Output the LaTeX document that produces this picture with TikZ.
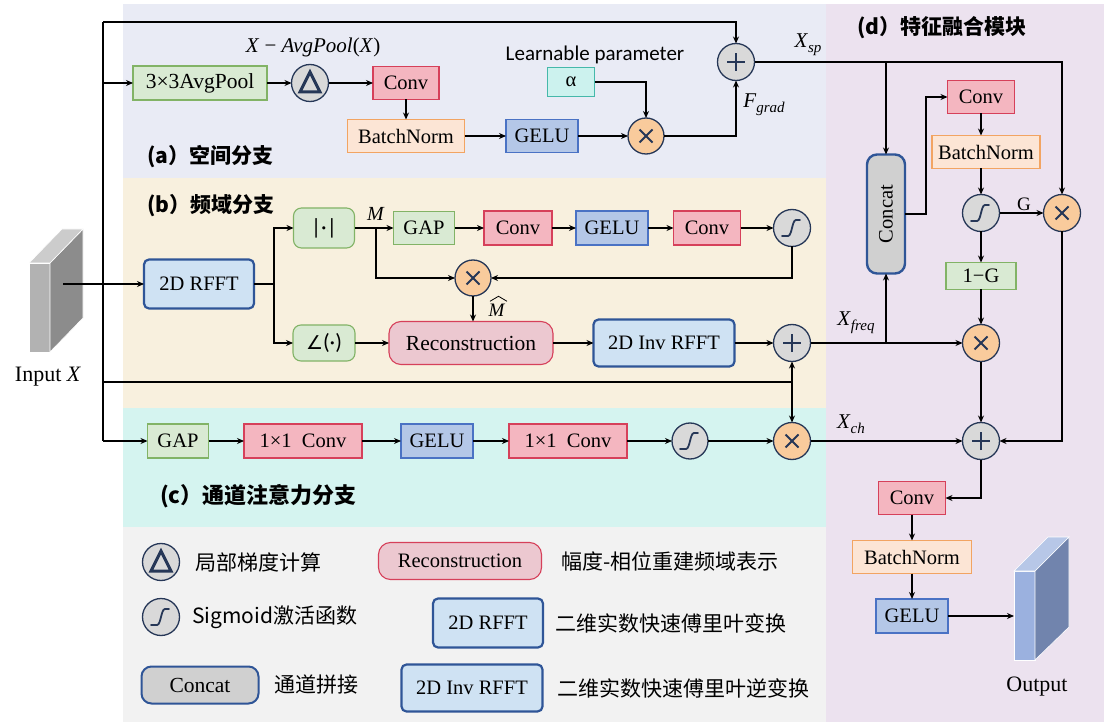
\RequirePackage{fix-cm}
\documentclass[tikz,border=0pt]{standalone}
\usepackage{graphicx}
\usepackage{fontspec}
\setmainfont{Liberation Serif}
\newfontfamily\cjk{Noto Sans CJK SC}
\newfontfamily\carl{Carlito}
\newfontfamily\dejavu{DejaVu Sans}
\usetikzlibrary{arrows.meta,calc}
\newcommand\fsz[1]{\fontsize{#1}{#1}\selectfont}
% italic variable with a lowered italic index
\newcommand\vsub[2]{\textit{#1}\raisebox{-5pt}{\fsz{15}\textit{#2}}}

% panel colours
\definecolor{panelA}{HTML}{E9EBF5}
\definecolor{panelB}{HTML}{F8F0DE}
\definecolor{panelC}{HTML}{D5F4F0}
\definecolor{panelL}{HTML}{F2F2F2}
\definecolor{panelD}{HTML}{ECE2EF}
% box colours
\definecolor{gfill}{HTML}{D9EAD3}\definecolor{gline}{HTML}{82B366}
\definecolor{pfill}{HTML}{F4B6C0}\definecolor{pline}{HTML}{D6405A}
\definecolor{ofill}{HTML}{FCE5D5}\definecolor{oline}{HTML}{F2A462}
\definecolor{bfill}{HTML}{B4C7E7}\definecolor{bline}{HTML}{4A72C4}
\definecolor{tfill}{HTML}{CCF2EE}\definecolor{tline}{HTML}{45B8AA}
\definecolor{ffill}{HTML}{CFE2F3}\definecolor{fline}{HTML}{2F5597}
\definecolor{rfill}{HTML}{ECC8D0}\definecolor{rline}{HTML}{D6405A}
\definecolor{cgray}{HTML}{D9D9D9}\definecolor{cline}{HTML}{263757}
\definecolor{corange}{HTML}{F9CB9C}
\definecolor{kfill}{HTML}{D0D0D0}

\begin{document}
\begin{tikzpicture}[x=1pt,y=-1pt,
  every node/.style={inner sep=0pt,outer sep=0pt},
  sz/.style 2 args={minimum width=#1pt,minimum height=#2pt},
  gbox/.style={draw=gline,fill=gfill,line width=1.1pt,font=\fsz{20.5}},
  grbox/.style={gbox,rounded corners=8pt},
  pbox/.style={draw=pline,fill=pfill,line width=1.1pt,font=\fsz{20.5}},
  obox/.style={draw=oline,fill=ofill,line width=1.1pt,font=\fsz{20.5}},
  bbox/.style={draw=bline,fill=bfill,line width=1.1pt,font=\fsz{20.5}},
  tbox/.style={draw=tline,fill=tfill,line width=1.1pt,font=\fsz{20.5}},
  fbox/.style={draw=fline,fill=ffill,line width=2.2pt,rounded corners=5pt,font=\fsz{20.5}},
  rbox/.style={draw=rline,fill=rfill,line width=1.1pt,rounded corners=12pt,font=\fsz{21.5}},
  kbox/.style={draw=fline,fill=kfill,line width=2.4pt,rounded corners=10pt,font=\fsz{20.5}},
  circ/.style={circle,draw=cline,fill=cgray,line width=1.3pt,minimum size=37pt},
  plusc/.style={circ,path picture={
    \draw[line width=2pt] ([xshift=-9pt]path picture bounding box.center) -- ([xshift=9pt]path picture bounding box.center);
    \draw[line width=2pt] ([yshift=-9pt]path picture bounding box.center) -- ([yshift=9pt]path picture bounding box.center);}},
  timesc/.style={circ,fill=corange,path picture={
    \draw[line width=2pt] ([shift={(-6.5pt,-6.5pt)}]path picture bounding box.center) -- ([shift={(6.5pt,6.5pt)}]path picture bounding box.center);
    \draw[line width=2pt] ([shift={(-6.5pt,6.5pt)}]path picture bounding box.center) -- ([shift={(6.5pt,-6.5pt)}]path picture bounding box.center);}},
  sigc/.style={circ,path picture={
    \draw[line width=1.8pt,line cap=round]
      ([shift={(-10pt,-8pt)}]path picture bounding box.center) -- ([shift={(-4pt,-8pt)}]path picture bounding box.center)
      .. controls ([shift={(0pt,-8pt)}]path picture bounding box.center) and ([shift={(0pt,8pt)}]path picture bounding box.center)
      .. ([shift={(4pt,8pt)}]path picture bounding box.center) -- ([shift={(8pt,8pt)}]path picture bounding box.center);}},
  deltac/.style={circ,path picture={
    \draw[line width=3pt,line join=miter]
      ([shift={(0pt,11pt)}]path picture bounding box.center) -- ([shift={(-10pt,-9pt)}]path picture bounding box.center)
      -- ([shift={(10pt,-9pt)}]path picture bounding box.center) -- cycle;}},
  arr/.style={-{Stealth[length=7pt,width=6pt]},line width=1.3pt},
  ln/.style={line width=1.3pt},
  sect/.style={anchor=west,font={\cjk\bfseries\fsz{21}}},
  legt/.style={anchor=west,font={\cjk\fsz{21}}},
  lbl/.style={font=\fsz{21}},
]
\useasboundingbox (0,0) rectangle (1104,722);

% ---------- background panels ----------
\fill[panelA] (123,4) rectangle (826,178);
\fill[panelB] (123,178) rectangle (826,408);
\fill[panelC] (123,408) rectangle (826,527);
\fill[panelL] (123,527) rectangle (826,722);
\fill[panelD] (826,4) rectangle (1104,722);

% ---------- input feature block ----------
\filldraw[fill=black!30,draw=white,line width=0.6pt] (29,263) -- (50,263) -- (50,352) -- (29,352) -- cycle;
\filldraw[fill=black!45,draw=white,line width=0.6pt] (50,263) -- (83,229) -- (83,318) -- (50,352) -- cycle;
\filldraw[fill=black!20,draw=white,line width=0.6pt] (29,263) -- (62,229) -- (83,229) -- (50,263) -- cycle;
\coordinate (inx) at (63,284);
\node[lbl,font=\fsz{22}] (inlbl) at (48,377) {Input \textit{X}};

% ---------- output feature block ----------
\filldraw[fill=bline!55,draw=white,line width=0.6pt] (1014,571) -- (1035,571) -- (1035,660) -- (1014,660) -- cycle;
\filldraw[fill=bline!70!black!70,draw=white,line width=0.6pt] (1035,571) -- (1069,537) -- (1069,627) -- (1035,660) -- cycle;
\filldraw[fill=bline!40,draw=white,line width=0.6pt] (1014,571) -- (1048,537) -- (1069,537) -- (1035,571) -- cycle;
\coordinate (outin) at (1014,616);
\node[lbl,font=\fsz{22}] (outlbl) at (1037,687) {Output};

% ---------- section titles ----------
\node[sect] (ta) at (147,157) {(a）空间分支};
\node[sect] (tb) at (147,206) {(b）频域分支};
\node[sect,font={\cjk\bfseries\fsz{22}}] (tc) at (160,496) {(c）通道注意力分支};
\node[sect] (td) at (857,28) {(d）特征融合模块};

% ---------- (a) spatial branch ----------
\node[gbox,sz={134}{34},font=\fsz{21.5}] (avg) at (200,83) {3×3AvgPool};
\node[deltac] (delta) at (310,83) {};
\node[pbox,sz={66}{33}] (conva) at (406,83) {Conv};
\node[obox,sz={117}{33}] (bna) at (406,136) {BatchNorm};
\node[bbox,sz={72}{33}] (gelua) at (542,136) {GELU};
\node[timesc,minimum size=36pt] (mula) at (646,136) {};
\node[tbox,sz={47}{29}] (alpha) at (571,82) {α};
\node[plusc] (plusa) at (736,62) {};
\node[lbl,font=\fsz{21}] (lxa) at (313,47) {\textit{X} − \textit{AvgPool}(\textit{X})};
\node[font={\carl\fsz{21}}] (llp) at (595,55) {Learnable parameter};
\node[lbl] (lfg) at (764,105) {\vsub{F}{grad}};
\node[lbl] (lxsp) at (808,45) {\vsub{X}{sp}};

% ---------- (b) frequency branch ----------
\node[fbox,sz={110}{49}] (rfft) at (199,284) {2D RFFT};
\node[grbox,sz={61}{40},font={\carl\fsz{22}}] (absn) at (324,228) {|·|};
\node[grbox,sz={62}{36},font={\carl\fsz{22}}] (angn) at (324,343) {{\dejavu\fsz{19}∠}(·)};
\node[gbox,sz={61}{33}] (gapb) at (424,228) {GAP};
\node[pbox,sz={68}{34}] (convb1) at (518,228) {Conv};
\node[bbox,sz={72}{34}] (gelub) at (612,228) {GELU};
\node[pbox,sz={67}{34}] (convb2) at (707,228) {Conv};
\node[sigc] (sigb) at (792,228) {};
\node[timesc,minimum size=36pt] (mulb) at (473,278) {};
\node[rbox,sz={164}{43}] (recon) at (471,343) {Reconstruction};
\node[fbox,sz={141}{47}] (irfft) at (664,343) {2D Inv RFFT};
\node[plusc] (plusb) at (792,343) {};
\node[lbl,font=\fsz{20}] (lm) at (376,214) {\textit{M}};
% estimated magnitude: italic M with a wide hat drawn above it
\node[lbl,font=\fsz{19}] (lmh) at (497,310) {\textit{M}};
\draw[line width=0.8pt,line join=miter] ($(lmh.north)+(-7,-2.5)$) -- ($(lmh.north)+(1.5,-7.5)$) -- ($(lmh.north)+(10,-2.5)$);
\node[lbl] (lxf) at (856,323) {\vsub{X}{freq}};

% ---------- (c) channel attention branch ----------
\node[gbox,sz={61}{34}] (gapc) at (178,441) {GAP};
\node[pbox,sz={118}{34}] (c1) at (303,441) {1×1\enspace Conv};
\node[bbox,sz={72}{34}] (gelc) at (437,441) {GELU};
\node[pbox,sz={118}{34}] (c2) at (568,441) {1×1\enspace Conv};
\node[sigc,minimum size=36pt] (sigcn) at (690,441) {};
\node[timesc] (mulc) at (792,441) {};
\node[lbl] (lxc) at (851,424) {\vsub{X}{ch}};

% ---------- (d) fusion module ----------
\node[kbox,sz={38}{119}] (concat) at (886,214) {\rotatebox{90}{Concat}};
\node[pbox,sz={67}{33}] (convd) at (981,97) {Conv};
\node[obox,sz={108}{33}] (bnd) at (986,152) {BatchNorm};
\node[sigc] (sigd) at (981,213) {};
\node[timesc] (muld) at (1062,213) {};
\node[gbox,sz={70}{27}] (oneg) at (981,276) {1−G};
\node[timesc] (mulfd) at (981,343) {};
\node[plusc] (plusd) at (981,441) {};
\node[pbox,sz={67}{33}] (convo) at (912,498) {Conv};
\node[obox,sz={119}{33}] (bno) at (912,557) {BatchNorm};
\node[bbox,sz={72}{34}] (geluo) at (912,616) {GELU};
\node[lbl,font=\fsz{19}] (lg) at (1024,204) {G};

% ---------- legend ----------
\node[deltac] (ldelta) at (161,562) {};
\node[legt] (ldeltat) at (195,562) {局部梯度计算};
\node[sigc] (lsig) at (161,617) {};
\node[legt] (lsigt) at (192,617) {Sigmoid激活函数};
\node[kbox,sz={117}{37},line width=2pt,font=\fsz{21.5}] (lconcat) at (200,685) {Concat};
\node[legt] (lconcatt) at (274,685) {通道拼接};
\node[rbox,sz={163}{37},font=\fsz{20.5}] (lrecon) at (460,561) {Reconstruction};
\node[legt] (lrecont) at (561,561) {幅度-相位重建频域表示};
\node[fbox,sz={110}{49}] (lrfft) at (488,623) {2D RFFT};
\node[legt] (lrfftt) at (555,623) {二维实数快速傅里叶变换};
\node[fbox,sz={141}{47}] (lirfft) at (472,688) {2D Inv RFFT};
\node[legt] (lirfftt) at (557,688) {二维实数快速傅里叶逆变换};

% ---------- connectors: input trunk ----------
\coordinate (tl) at (103,22);
\coordinate (tbot) at (103,441);
\coordinate (tx) at (103,382);
\draw[ln] (tl) -- (tbot);
\draw[arr] (tl) -| (plusa.north);
\draw[arr] (tl |- avg.west) -- (avg.west);
\draw[arr] (tbot) -- (gapc.west);
\draw[arr] (tx) -| (plusb.south);
\draw[arr] (plusb.south |- tx) -- (mulc.north);

% ---------- connectors: (a) ----------
\draw[arr] (avg) -- (delta);
\draw[arr] (delta) -- (conva);
\draw[arr] (conva) -- (bna);
\draw[arr] (bna) -- (gelua);
\draw[arr] (gelua) -- (mula);
\draw[arr] (alpha.east) -| (mula.north);
\draw[arr] (mula.east) -| (plusa.south);
\draw[arr] (plusa.east) -| (muld.north);
\draw[arr] (plusa.east -| concat.north) -- (concat.north);

% ---------- connectors: (b) ----------
\coordinate (sp) at (274,284);
\coordinate (mj) at (376,228);
\draw[arr] (inx) -- (rfft.west);
\draw[ln] (rfft.east) -- (sp);
\draw[arr] (sp) |- (absn.west);
\draw[arr] (sp) |- (angn.west);
\draw[arr] (absn) -- (gapb);
\draw[arr] (mj) |- (mulb.west);
\draw[arr] (gapb) -- (convb1);
\draw[arr] (convb1) -- (gelub);
\draw[arr] (gelub) -- (convb2);
\draw[arr] (convb2) -- (sigb);
\draw[arr] (sigb.south) |- (mulb.east);
\draw[arr] (mulb.south) -- (mulb.south |- recon.north);
\draw[arr] (angn) -- (recon);
\draw[arr] (recon) -- (irfft);
\draw[arr] (irfft) -- (plusb);
\draw[arr] (plusb.east) -- (mulfd.west);
\draw[arr] (plusb.east -| concat.south) -- (concat.south);

% ---------- connectors: (c) ----------
\draw[arr] (gapc) -- (c1);
\draw[arr] (c1) -- (gelc);
\draw[arr] (gelc) -- (c2);
\draw[arr] (c2) -- (sigcn);
\draw[arr] (sigcn) -- (mulc);
\draw[arr] (mulc.east) -- (plusd.west);

% ---------- connectors: (d) ----------
\draw[arr] (concat.east) -- ++(21,0) |- (convd.west);
\draw[arr] (convd.south) -- (convd.south |- bnd.north);
\draw[arr] (sigd.north |- bnd.south) -- (sigd.north);
\draw[arr] (sigd) -- (muld);
\draw[arr] (sigd) -- (oneg);
\draw[arr] (oneg) -- (mulfd);
\draw[arr] (mulfd) -- (plusd);
\draw[arr] (muld.south) |- (plusd.east);
\draw[arr] (plusd.south) |- (convo.east);
\draw[arr] (convo) -- (bno);
\draw[arr] (bno) -- (geluo);
\draw[arr] (geluo.east) -- (outin);
\end{tikzpicture}
\end{document}
